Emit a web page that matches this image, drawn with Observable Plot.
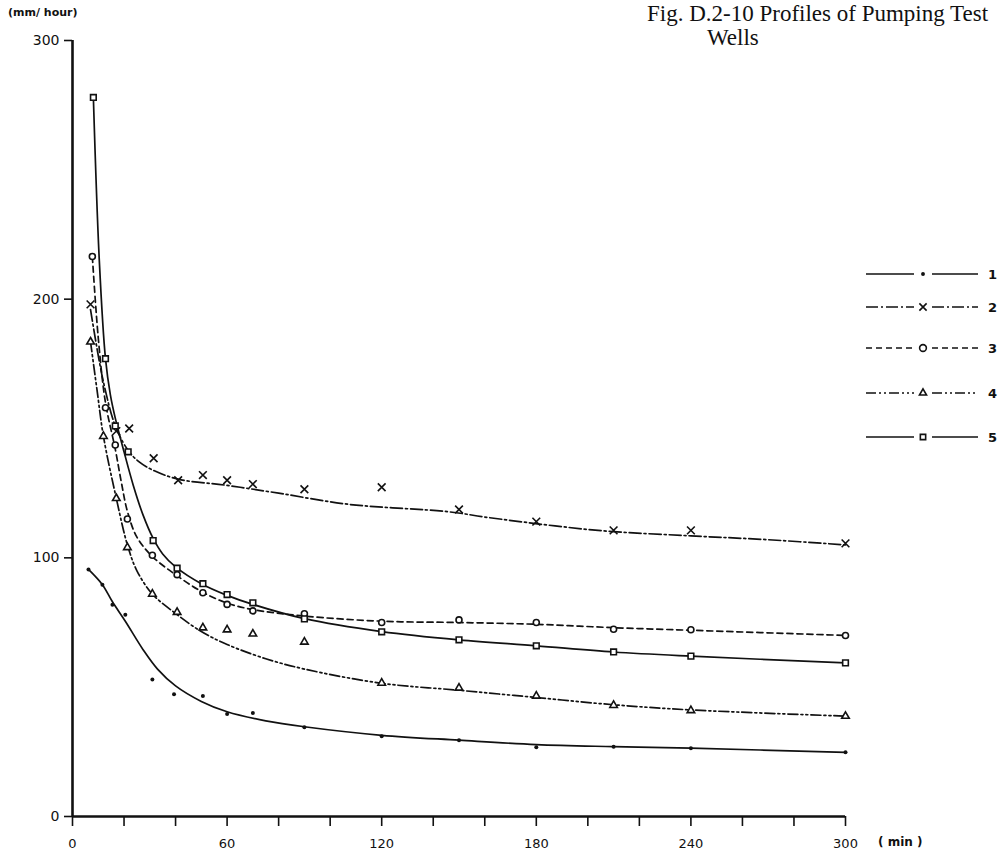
<!DOCTYPE html>
<html>
<head>
<meta charset="utf-8">
<script src="https://cdn.jsdelivr.net/npm/d3@7"></script>
<script src="https://cdn.jsdelivr.net/npm/@observablehq/plot@0.6"></script>
<style>
  html, body { margin: 0; padding: 0; background: #fff; overflow: hidden; }
  #wrap { position: relative; width: 998px; height: 858px; overflow: hidden; }
  .title { position: absolute; font-family: "Liberation Serif", "DejaVu Serif", serif; font-size: 23px; line-height: 23px; white-space: nowrap; color: #111; }
  .unit { position: absolute; font-family: "DejaVu Sans", sans-serif; color: #111; white-space: nowrap; }
  #legend { position: absolute; left: 0; top: 0; pointer-events: none; }
</style>
</head>
<body>
<div id="wrap">
  <div class="title" style="left:647px; top:2px;">Fig. D.2-10 Profiles of Pumping Test</div>
  <div class="title" style="left:707px; top:26px;">Wells</div>
  <div class="unit" style="left:8px; top:6px; font-size:11px; font-weight:bold;">(mm/ hour)</div>
  <div class="unit" style="left:878px; top:835px; font-size:12px; font-weight:bold;">( min )</div>
</div>
<script>
// ---- tick labels ----
const yTicks = [0, 100, 200, 300];
const xTicks = [0, 20, 40, 60, 80, 100, 120, 140, 160, 180, 200, 220, 240, 260, 280, 300];
const xLabels = [0, 60, 120, 180, 240, 300];
const seriesNames = ["1", "2", "3", "4", "5"];

// ---- measured points (minutes, mm/hour) ----
const s1Time = [6.2, 11.6, 15.5, 20.5, 31, 39.4, 50.6, 60, 70, 90, 120, 150, 180, 210, 240, 300];
const s1Rate = [95.5, 89.6, 81.9, 78, 53, 47.3, 46.6, 39.6, 40, 34.5, 31, 29.5, 26.8, 27, 26.4, 24.8];
const s2Time = [7, 17, 22, 31.5, 41, 50.6, 60, 70, 90, 120, 150, 180, 210, 240, 300];
const s2Rate = [198, 149, 150, 138.5, 130, 132, 130, 128.5, 126.5, 127.3, 118.7, 114, 110.6, 110.6, 105.6];
const s3Time = [7.7, 12.8, 16.6, 21.3, 31, 40.6, 50.6, 60, 70, 90, 120, 150, 180, 210, 240, 300];
const s3Rate = [216.5, 158, 143.6, 115, 101, 93.5, 86.5, 82, 79.5, 78.4, 75, 76, 75, 72.4, 72.2, 70];
const s4Time = [7, 12, 17, 21.3, 31, 40.6, 50.6, 60, 70, 90, 120, 150, 180, 210, 240, 300];
const s4Rate = [183.5, 147, 123, 104, 86, 79, 73, 72.2, 70.6, 67.5, 51.6, 49.7, 46.6, 43, 41, 38.8];
const s5Time = [8.1, 12.8, 16.6, 21.6, 31.3, 40.6, 50.6, 60, 70, 90, 120, 150, 180, 210, 240, 300];
const s5Rate = [278, 177, 151, 141, 106.7, 96, 90, 85.8, 82.6, 76.4, 71.4, 68.3, 66, 63.6, 62, 59.4];

// ---- fitted curves as drawn in the figure ----
const f1Time = [6.2, 11.6, 15.5, 20.5, 27.4, 33, 40, 50, 60, 75, 90, 120, 150, 180, 210, 240, 300];
const f1Rate = [95.5, 89.6, 83, 75.5, 64.5, 57, 50.5, 44.5, 40.5, 37, 34.7, 31.4, 29.5, 27.8, 27, 26.4, 24.8];
const f2Time = [7, 12, 17, 22, 26, 31, 41, 60, 80, 107, 146, 162, 204, 240, 270, 300];
const f2Rate = [196, 168, 150, 141, 137, 134, 130.4, 128, 125, 120.7, 117.8, 115.5, 110.6, 108.5, 107, 105];
const f3Time = [7.7, 10, 12.8, 16.6, 19, 21.3, 25, 31, 40, 50, 60, 70, 90, 120, 150, 180, 210, 240, 300];
const f3Rate = [216.5, 185, 160, 142, 129, 118, 108, 100.5, 93.5, 87, 82.5, 80, 77.5, 75.5, 75, 74.3, 73, 72, 70];
const f4Time = [7, 9.5, 12, 17, 21.3, 25, 31, 40, 50, 60, 75, 90, 120, 150, 180, 210, 240, 300];
const f4Rate = [183.5, 165, 147, 123, 105, 95, 86, 78.5, 71.5, 66.5, 61, 57, 51.5, 48.8, 46, 43.2, 41.2, 38.8];
const f5Time = [8.1, 10.4, 12.8, 14.7, 16.6, 20, 23.6, 27.4, 31.3, 35, 40, 50, 60, 70, 90, 120, 150, 180, 210, 240, 300];
const f5Rate = [278, 215, 177, 163, 154, 141, 128, 116.5, 107.5, 101.5, 96.5, 90, 85.5, 82, 76.5, 71.5, 68.3, 66, 63.6, 62, 59.4];

// ---- styles ----
const dashes = [null, "12,3,2,3", "6,4", "10,3,2,3,2,3", null];
const symbols = ["circle", "times", "circle", "triangle2", "square2"];

const measured = [[s1Time, s1Rate], [s2Time, s2Rate], [s3Time, s3Rate], [s4Time, s4Rate], [s5Time, s5Rate]];
const fitted = [[f1Time, f1Rate], [f2Time, f2Rate], [f3Time, f3Rate], [f4Time, f4Rate], [f5Time, f5Rate]];
const toRows = ([t, v], i) => t.map((tt, j) => ({ t: tt, v: v[j], s: seriesNames[i] }));

const lineMarks = fitted.map((f, i) => Plot.line(toRows(f, i), {
  x: "t", y: "v", curve: "catmull-rom", stroke: "#111", strokeWidth: 1.7,
  strokeDasharray: dashes[i] || undefined
}));
const dotMarks = measured.map((m, i) => i === 0
  ? Plot.dot(toRows(m, i), { x: "t", y: "v", r: 2, fill: "#111", stroke: "none" })
  : Plot.dot(toRows(m, i), { x: "t", y: "v", symbol: symbols[i], r: i === 2 ? 3 : 3.6, fill: "white", stroke: "#111", strokeWidth: 1.6 }));

const chart = Plot.plot({
  width: 998, height: 858,
  marginTop: 40, marginLeft: 72, marginRight: 153, marginBottom: 42,
  x: { domain: [0, 300] },
  y: { domain: [0, 300] },
  style: { fontFamily: "DejaVu Sans, sans-serif", fontSize: "13px", background: "white", color: "#111" },
  marks: [
    Plot.axisY({ ticks: yTicks, tickSize: 8, tickPadding: 5, label: null, fontSize: 14, strokeWidth: 1.6 }),
    Plot.axisX({ ticks: xTicks, tickSize: 10, tickPadding: 12, label: null, fontSize: 13, strokeWidth: 1.6,
      tickFormat: d => xLabels.includes(d) ? String(d) : "" }),
    ...lineMarks,
    ...dotMarks,
    Plot.ruleX([0], { strokeWidth: 2.6, stroke: "#111" }),
    Plot.ruleY([0], { strokeWidth: 2.6, stroke: "#111" })
  ]
});
const wrap = document.getElementById("wrap");
wrap.insertBefore(chart, wrap.firstChild);

// ---- legend (right side) ----
const legendY = [274, 307, 348, 393, 437];
const lg = d3.select("#wrap").append("svg").attr("id", "legend").attr("width", 998).attr("height", 858);
seriesNames.forEach((name, i) => {
  const g = lg.append("g").attr("transform", `translate(0,${legendY[i]})`);
  const seg = (x1, x2) => g.append("line").attr("x1", x1).attr("x2", x2).attr("y1", 0).attr("y2", 0)
    .attr("stroke", "#111").attr("stroke-width", 1.7).attr("stroke-dasharray", dashes[i] || null);
  seg(866, 914); seg(932, 978);
  const sym = d3.symbol().type({
    circle: d3.symbolCircle, times: d3.symbolTimes, triangle2: d3.symbolTriangle2, square2: d3.symbolSquare2
  }[symbols[i]]).size(i === 0 ? 12 : 36)();
  g.append("path").attr("d", sym).attr("transform", "translate(923,0)")
    .attr("fill", i === 0 ? "#111" : "white").attr("stroke", i === 0 ? "none" : "#111").attr("stroke-width", 1.6);
  g.append("text").attr("x", 988).attr("y", 5).attr("font-family", "DejaVu Sans, sans-serif")
    .attr("font-size", 13).attr("font-weight", "bold").attr("fill", "#111").text(name);
});
</script>
</body>
</html>
